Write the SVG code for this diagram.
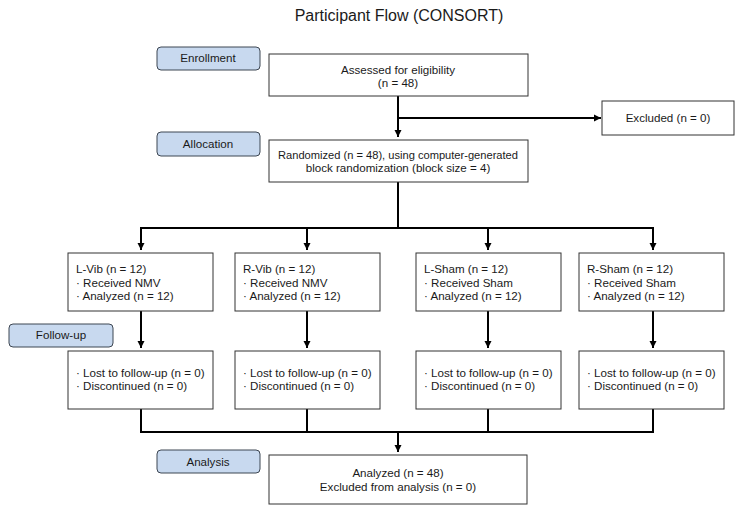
<svg xmlns="http://www.w3.org/2000/svg" width="740" height="512" viewBox="0 0 740 512">
<defs>
<marker id="ah" markerWidth="8" markerHeight="8" refX="7" refY="4" orient="auto" markerUnits="userSpaceOnUse">
<path d="M0,0.5 L7,4 L0,7.5 Z" fill="#000"/>
</marker>
</defs>
<style>
text{font-family:"Liberation Sans",Arial,sans-serif;font-size:11.6px;fill:#1a1a1a}
.c{text-anchor:middle}
.box{fill:#fff;stroke:#333;stroke-width:1}
.lab{fill:#c8d9ef;stroke:#3d4652;stroke-width:1}
.ln{fill:none;stroke:#000;stroke-width:2}
.title{font-size:16px}
</style>
<rect width="740" height="512" fill="#fff"/>
<text class="c title" x="399" y="21">Participant Flow (CONSORT)</text>

<g id="connectors">
<path class="ln" d="M398,96 V137" marker-end="url(#ah)"/>
<path class="ln" d="M398,118 H601" marker-end="url(#ah)"/>
<path class="ln" d="M398,182 V228 M141,228 H653"/>
<path class="ln" d="M141,227 V250" marker-end="url(#ah)"/>
<path class="ln" d="M307,227 V250" marker-end="url(#ah)"/>
<path class="ln" d="M488,227 V250" marker-end="url(#ah)"/>
<path class="ln" d="M653,227 V250" marker-end="url(#ah)"/>
<path class="ln" d="M141,311 V348" marker-end="url(#ah)"/>
<path class="ln" d="M307,311 V348" marker-end="url(#ah)"/>
<path class="ln" d="M488,311 V348" marker-end="url(#ah)"/>
<path class="ln" d="M653,311 V348" marker-end="url(#ah)"/>
<path class="ln" d="M141,409 V432 M307,409 V432 M488,409 V432 M653,409 V432 M140,432 H654"/>
<path class="ln" d="M398,432 V452" marker-end="url(#ah)"/>
</g>

<g id="label-enrollment"><rect class="lab" x="157" y="47" width="103" height="23" rx="4"/><text class="c" x="208" y="62">Enrollment</text></g>
<g id="label-allocation"><rect class="lab" x="157" y="132" width="103" height="24" rx="4"/><text class="c" x="208" y="148">Allocation</text></g>
<g id="label-followup"><rect class="lab" x="9" y="324" width="104" height="23" rx="4"/><text class="c" x="61" y="339">Follow-up</text></g>
<g id="label-analysis"><rect class="lab" x="157" y="450" width="103" height="23" rx="4"/><text class="c" x="208" y="466">Analysis</text></g>

<g id="assessed"><rect class="box" x="269" y="54" width="259" height="42"/><text class="c" x="398" y="74">Assessed for eligibility</text><text class="c" x="398" y="87">(n = 48)</text></g>
<g id="excluded"><rect class="box" x="602" y="101" width="132" height="34"/><text class="c" x="668" y="122">Excluded (n = 0)</text></g>
<g id="randomized"><rect class="box" x="269" y="140" width="259" height="42"/><text class="c" x="398" y="159" textLength="240" lengthAdjust="spacingAndGlyphs">Randomized (n = 48), using computer-generated</text><text class="c" x="398" y="172">block randomization (block size = 4)</text></g>

<g id="lvib"><rect class="box" x="68" y="253" width="145" height="58"/><text x="76" y="273">L-Vib (n = 12)</text><text x="76" y="287">· Received NMV</text><text x="76" y="300">· Analyzed (n = 12)</text></g>
<g id="rvib"><rect class="box" x="235" y="253" width="145" height="58"/><text x="243" y="273">R-Vib (n = 12)</text><text x="243" y="287">· Received NMV</text><text x="243" y="300">· Analyzed (n = 12)</text></g>
<g id="lsham"><rect class="box" x="416" y="253" width="145" height="58"/><text x="424" y="273">L-Sham (n = 12)</text><text x="424" y="287">· Received Sham</text><text x="424" y="300">· Analyzed (n = 12)</text></g>
<g id="rsham"><rect class="box" x="579" y="253" width="145" height="58"/><text x="587" y="273">R-Sham (n = 12)</text><text x="587" y="287">· Received Sham</text><text x="587" y="300">· Analyzed (n = 12)</text></g>

<g id="fu-lvib"><rect class="box" x="68" y="351" width="145" height="58"/><text x="76" y="377">· Lost to follow-up (n = 0)</text><text x="76" y="390">· Discontinued (n = 0)</text></g>
<g id="fu-rvib"><rect class="box" x="235" y="351" width="145" height="58"/><text x="243" y="377">· Lost to follow-up (n = 0)</text><text x="243" y="390">· Discontinued (n = 0)</text></g>
<g id="fu-lsham"><rect class="box" x="416" y="351" width="145" height="58"/><text x="424" y="377">· Lost to follow-up (n = 0)</text><text x="424" y="390">· Discontinued (n = 0)</text></g>
<g id="fu-rsham"><rect class="box" x="579" y="351" width="145" height="58"/><text x="587" y="377">· Lost to follow-up (n = 0)</text><text x="587" y="390">· Discontinued (n = 0)</text></g>

<g id="analyzed"><rect class="box" x="269" y="455" width="258" height="49"/><text class="c" x="398" y="477">Analyzed (n = 48)</text><text class="c" x="398" y="491">Excluded from analysis (n = 0)</text></g>
</svg>
